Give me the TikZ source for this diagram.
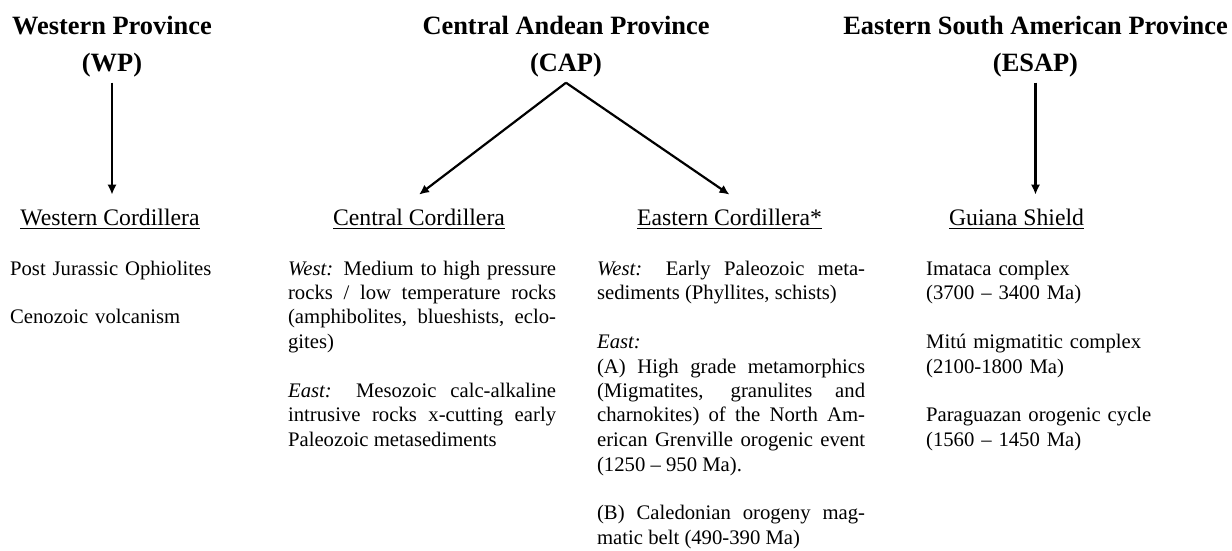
\documentclass[tikz,border=0pt]{standalone}
\usepackage{fontspec}
\setmainfont{Liberation Serif}
\usetikzlibrary{arrows.meta}
\newcommand{\gap}{\par\vspace{12.25pt}}

\begin{document}
\begin{tikzpicture}[x=0.5pt, y=-0.5pt, >={Latex[length=5pt,width=4.6pt]}, line width=1.1pt,
  province/.style={font=\fontsize{13.2pt}{18.5pt}\selectfont\bfseries, align=center, inner sep=2pt, anchor=base},
  region/.style={font=\fontsize{11.85pt}{14pt}\selectfont, inner xsep=0pt, inner ysep=6.4pt, anchor=base},
  info/.style={font=\fontsize{10.35pt}{12.25pt}\selectfont, text width=134pt, inner sep=0pt, anchor=base west, align=justify},
  infoleft/.style={info, align=left}]
  \useasboundingbox (0,0) rectangle (1232,551);

  % Provinzen (base = letzte Zeile)
  \node[province] (wp) at (112,72) {Western Province\\(WP)};
  \node[province] (cap) at (566,72) {Central Andean Province\\(CAP)};
  \node[province] (esap) at (1035.5,72) {Eastern South American Province\\(ESAP)};

  % Kordilleren und Schild
  \node[region] (wc) at (110,225) {\underline{Western Cordillera}};
  \node[region] (cc) at (419,225) {\underline{Central Cordillera}};
  \node[region] (ec) at (729.5,225) {\underline{Eastern Cordillera*}};
  \node[region] (gs) at (1016.5,225) {\underline{Guiana Shield}};

  \draw[->] (wp) -- (wp |- wc.north);
  \draw[->] (cap.south) -- (cc.north);
  \draw[->] (cap.south) -- (ec.north);
  \draw[->] (esap) -- (esap |- gs.north);

  % Gesteine
  \node[infoleft] (wctext) at (9,275) {Post Jurassic Ophiolites\gap Cenozoic volcanism};
  \node[info] (cctext) at (287,275) {\textit{West:} Medium to high pressure\linebreak rocks / low temperature rocks\linebreak (amphibolites, blueshists, eclo-\linebreak gites)\gap \textit{East:} Mesozoic calc-alkaline\linebreak intrusive rocks x-cutting early\linebreak Paleozoic metasediments};
  \node[info] (ectext) at (596,275) {\textit{West:} Early Paleozoic meta-\linebreak sediments (Phyllites, schists)\gap \textit{East:}\\ (A) High grade metamorphics\linebreak (Migmatites, granulites and\linebreak charnokites) of the North Am-\linebreak erican Grenville orogenic event\linebreak (1250 -- 950 Ma).\gap (B) Caledonian orogeny mag-\linebreak matic belt (490-390 Ma)};
  \node[infoleft] (gstext) at (925,275) {Imataca complex\\(3700 -- 3400 Ma)\gap Mitú migmatitic complex\\(2100-1800 Ma)\gap Paraguazan orogenic cycle\\(1560 -- 1450 Ma)};
\end{tikzpicture}
\end{document}
